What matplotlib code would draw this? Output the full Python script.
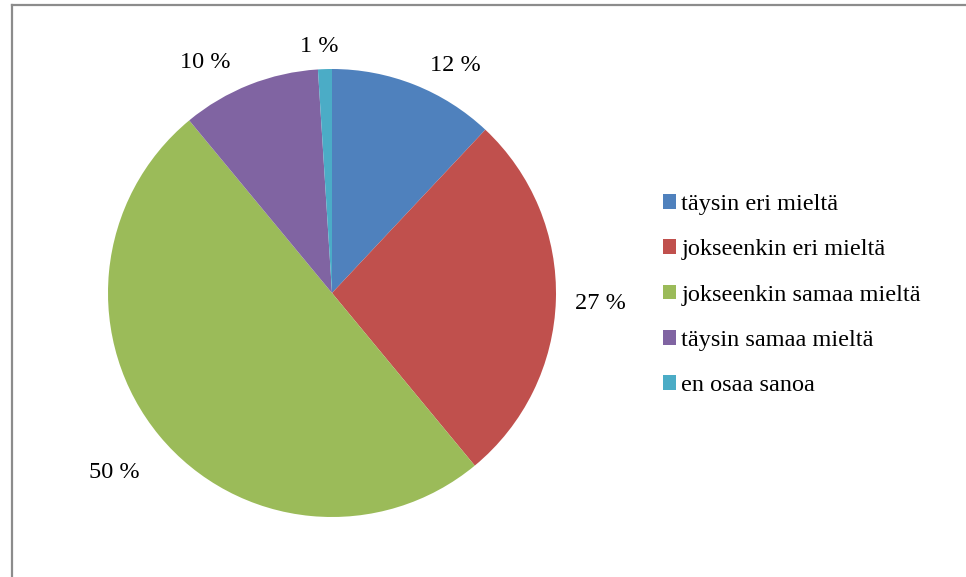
import numpy as np
import matplotlib.pyplot as plt
from matplotlib.lines import Line2D
from matplotlib.patches import Patch

categories = [
    "täysin eri mieltä",
    "jokseenkin eri mieltä",
    "jokseenkin samaa mieltä",
    "täysin samaa mieltä",
    "en osaa sanoa",
]
values = [12, 27, 50, 10, 1]
colors = ["#4F81BD", "#C0504D", "#9BBB59", "#8064A2", "#4BACC6"]

# label placement: distance from centre (in radii) and a small nudge
label_dist = [1.17, 1.2, 1.26, 1.18, 1.11]
label_nudge = [(0.12, -0.07), (0, -0.01), (0, 0), (-0.13, -0.07), (-0.02, -0.01)]

W, H = 966, 577
fig = plt.figure(figsize=(W / 100, H / 100), dpi=100)

# pie centre at (332, 293) px from top-left, radius 224 px
R = 224
lim = 1.4
side = 2 * R * lim
cx, cy = 332, H - 293
ax = fig.add_axes([(cx - side / 2) / W, (cy - side / 2) / H, side / W, side / H])

wedges, _ = ax.pie(values, colors=colors, startangle=90, counterclock=False,
                   wedgeprops=dict(linewidth=0))
ax.set_xlim(-lim, lim)
ax.set_ylim(-lim, lim)
ax.set_aspect("equal")
ax.axis("off")

font = "Liberation Serif"
for w, v, d, (nx, ny) in zip(wedges, values, label_dist, label_nudge):
    ang = np.deg2rad((w.theta1 + w.theta2) / 2)
    x = d * np.cos(ang) + nx
    y = d * np.sin(ang) + ny
    ax.text(x, y, f"{v} %", ha="center", va="center", fontsize=17.5,
            family=font, color="black")

handles = [Patch(facecolor=c, edgecolor="none") for c in colors]
fig.legend(handles, categories, loc="center left",
           bbox_to_anchor=(663 / W, 1 - 295 / H), frameon=False,
           prop=dict(family=font, size=17.5), handlelength=0.55,
           handleheight=0.55, handletextpad=0.2, labelspacing=1.0,
           borderpad=0, borderaxespad=0)

# chart area border (only top and left edges are inside the picture)
border = "#8c8c8c"
fig.add_artist(Line2D([11.5 / W, 1], [1 - 5.3 / H, 1 - 5.3 / H],
                      transform=fig.transFigure, color=border, linewidth=1.6))
fig.add_artist(Line2D([11.5 / W, 11.5 / W], [0, 1 - 5.3 / H],
                      transform=fig.transFigure, color=border, linewidth=1.6))

fig.savefig("out.png", dpi=100)
